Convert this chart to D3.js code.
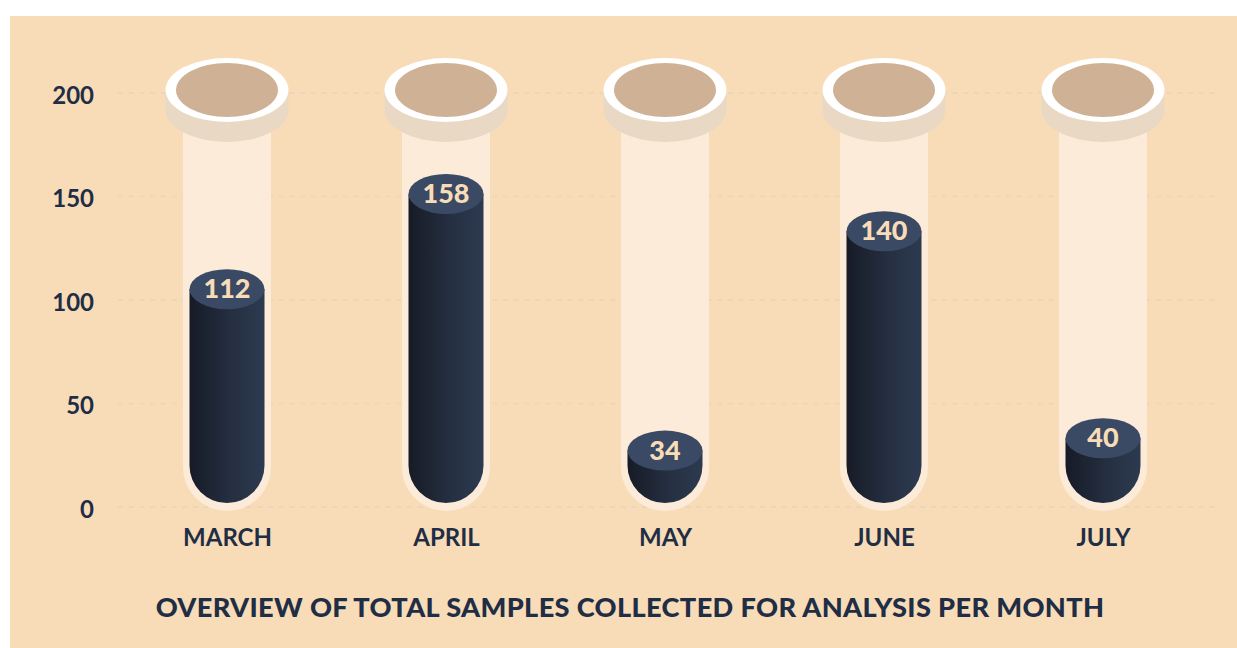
<!DOCTYPE html>
<html lang="en">
<head>
    <meta charset="UTF-8">
    <title>Overview of total samples collected</title>
    <script src="https://d3js.org/d3.v7.min.js"></script>
    <style>
        html, body { margin: 0; padding: 0; background: #fff; }
        svg { display: block; }
        text { font-family: Lato, "Open Sans", sans-serif; fill: #1f2d45; }
        .grid line { stroke: #ecd6ba; stroke-width: 2; stroke-dasharray: 5 5.7; }
        .axis .domain, .axis .tick line { display: none; }
        .axis text { font-size: 24px; font-weight: 700; }
        .value { font-size: 27px; font-weight: 900; fill: #f8dcb8; text-anchor: middle; }
        .title { font-size: 27.2px; font-weight: 900; text-anchor: middle; letter-spacing: 0.35px; }
    </style>
</head>
<body>
    <svg id="chart" width="1237" height="648"></svg>

    <script>
        const months = ["MARCH", "APRIL", "MAY", "JUNE", "JULY"];
        const samples = [112, 158, 34, 140, 40];
        const yTicks = [0, 50, 100, 150, 200];
        const chartTitle = "OVERVIEW OF TOTAL SAMPLES COLLECTED FOR ANALYSIS PER MONTH";

        const svg = d3.select("#chart");

        // Panel
        svg.append("rect")
            .attr("x", 10).attr("y", 16)
            .attr("width", 1227).attr("height", 632)
            .attr("fill", "#f8dcb8");

        const x = d3.scalePoint().domain(months).range([227, 1103]);
        const y = d3.scaleLinear().domain([0, 200]).range([507, 93]);

        // Tube and liquid sizes
        const tubeR = 44, liquidR = 37.5, capRy = 20;
        const tubeBottom = y(0) + 4, liquidBottom = y(0) - 4;
        // The liquid surface sits a little under its value in the picture
        const surfaceOffset = 14;
        const rimCy = y(200) - 3, rimRx = 61.5, rimRy = 32, rimDepth = 20;

        const grad = svg.append("defs").append("linearGradient").attr("id", "liquid");
        grad.append("stop").attr("offset", "0%").attr("stop-color", "#161b26");
        grad.append("stop").attr("offset", "55%").attr("stop-color", "#252f41");
        grad.append("stop").attr("offset", "100%").attr("stop-color", "#2c3a50");

        // Grid lines
        svg.append("g").attr("class", "grid")
            .selectAll("line")
            .data(yTicks)
            .enter()
            .append("line")
            .attr("x1", 118).attr("x2", 1215)
            .attr("y1", d => y(d)).attr("y2", d => y(d));

        // Axes
        svg.append("g").attr("class", "axis")
            .attr("transform", "translate(103,0)")
            .call(d3.axisLeft(y).tickValues(yTicks).tickSize(0).tickPadding(9))
            .selectAll("text").attr("dy", "0.42em").attr("y", 0);

        svg.append("g").attr("class", "axis")
            .attr("transform", "translate(0,537)")
            .call(d3.axisBottom(x).tickSize(0).tickPadding(0))
            .selectAll("text").attr("y", 0).attr("dy", "0.36em");

        const data = months.map((m, i) => ({ month: m, value: samples[i] }));
        const tube = svg.append("g").selectAll("g")
            .data(data)
            .enter()
            .append("g")
            .attr("transform", d => `translate(${x(d.month)},0)`);

        // Glass
        tube.append("path")
            .attr("fill", "#fdebd9")
            .attr("d", `M${-tubeR},${rimCy} V${tubeBottom - tubeR} A${tubeR},${tubeR} 0 0 0 ${tubeR},${tubeBottom - tubeR} V${rimCy} Z`);

        // Rim shadow, rim, opening
        tube.append("path")
            .attr("fill", "#e9d8c4")
            .attr("d", `M${-rimRx},${rimCy} V${rimCy + rimDepth} A${rimRx},${rimRy} 0 0 0 ${rimRx},${rimCy + rimDepth} V${rimCy} Z`);
        tube.append("ellipse")
            .attr("cy", rimCy).attr("rx", rimRx).attr("ry", rimRy)
            .attr("fill", "#fff");
        tube.append("ellipse")
            .attr("cy", rimCy).attr("rx", 51).attr("ry", 27)
            .attr("fill", "#cfb296");

        // Liquid
        tube.append("path")
            .attr("fill", "url(#liquid)")
            .attr("d", d => {
                const top = y(d.value) + surfaceOffset;
                return `M${-liquidR},${top} V${liquidBottom - liquidR} A${liquidR},${liquidR} 0 0 0 ${liquidR},${liquidBottom - liquidR} V${top} Z`;
            });
        tube.append("ellipse")
            .attr("cy", d => y(d.value) + surfaceOffset)
            .attr("rx", liquidR).attr("ry", capRy)
            .attr("fill", "#3a4a64");
        tube.append("text")
            .attr("class", "value")
            .attr("y", d => y(d.value) + surfaceOffset)
            .attr("dy", "0.33em")
            .text(d => d.value);

        svg.append("text")
            .attr("class", "title")
            .attr("x", 630).attr("y", 617)
            .text(chartTitle);
    </script>
</body>
</html>
